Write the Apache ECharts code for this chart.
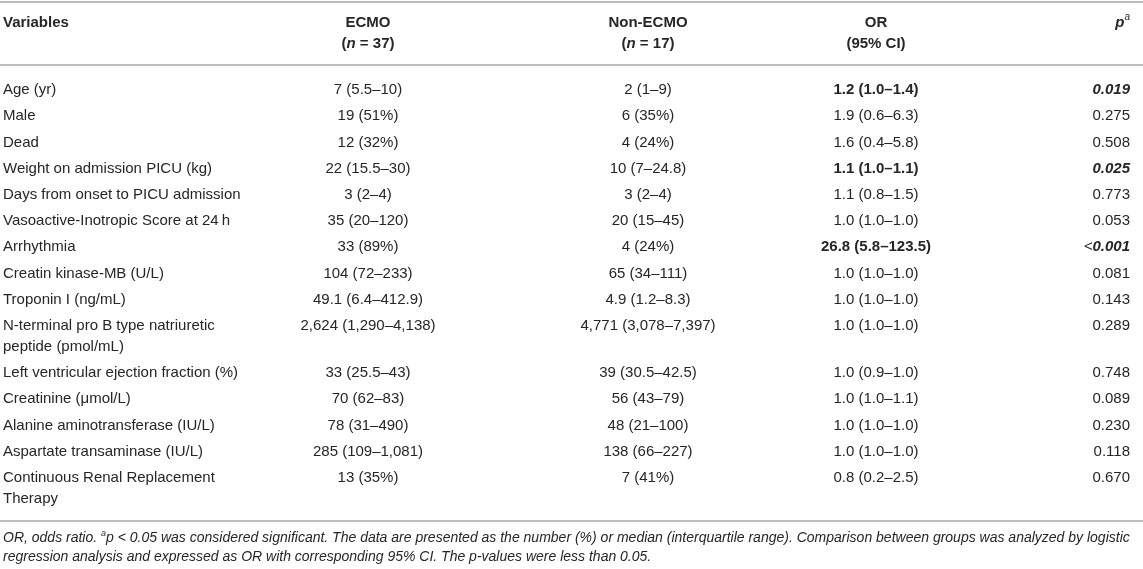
<!DOCTYPE html>
<html>
<head>
<meta charset="utf-8">
<title>ECMO vs Non-ECMO</title>
<script src="https://cdn.jsdelivr.net/npm/echarts@6/dist/echarts.min.js"></script>
<style>
  html, body { margin: 0; padding: 0; background: #fff; }
  #table { width: 1143px; height: 569px; }
</style>
</head>
<body>
<div id="table"></div>
<script>
// table data
const groupSizes = [37, 17]
const variables = [
  'Age (yr)',
  'Male',
  'Dead',
  'Weight on admission PICU (kg)',
  'Days from onset to PICU admission',
  'Vasoactive-Inotropic Score at 24\u2009h',
  'Arrhythmia',
  'Creatin kinase-MB (U/L)',
  'Troponin I (ng/mL)',
  'N-terminal pro B type natriuretic\npeptide (pmol/mL)',
  'Left ventricular ejection fraction (%)',
  'Creatinine (\u03bcmol/L)',
  'Alanine aminotransferase (IU/L)',
  'Aspartate transaminase (IU/L)',
  'Continuous Renal Replacement\nTherapy'
]
const ecmo = [
  '7 (5.5–10)', '19 (51%)', '12 (32%)', '22 (15.5–30)', '3 (2–4)',
  '35 (20–120)', '33 (89%)', '104 (72–233)', '49.1 (6.4–412.9)',
  '2,624 (1,290–4,138)', '33 (25.5–43)', '70 (62–83)', '78 (31–490)',
  '285 (109–1,081)', '13 (35%)'
]
const nonEcmo = [
  '2 (1–9)', '6 (35%)', '4 (24%)', '10 (7–24.8)', '3 (2–4)',
  '20 (15–45)', '4 (24%)', '65 (34–111)', '4.9 (1.2–8.3)',
  '4,771 (3,078–7,397)', '39 (30.5–42.5)', '56 (43–79)', '48 (21–100)',
  '138 (66–227)', '7 (41%)'
]
const orCi = [
  '1.2 (1.0–1.4)', '1.9 (0.6–6.3)', '1.6 (0.4–5.8)', '1.1 (1.0–1.1)', '1.1 (0.8–1.5)',
  '1.0 (1.0–1.0)', '26.8 (5.8–123.5)', '1.0 (1.0–1.0)', '1.0 (1.0–1.0)',
  '1.0 (1.0–1.0)', '1.0 (0.9–1.0)', '1.0 (1.0–1.1)', '1.0 (1.0–1.0)',
  '1.0 (1.0–1.0)', '0.8 (0.2–2.5)'
]
const pValues = [
  '0.019', '0.275', '0.508', '0.025', '0.773', '0.053', '<0.001', '0.081',
  '0.143', '0.289', '0.748', '0.089', '0.230', '0.118', '0.670'
]
const footnote = [
  '{i|OR, odds ratio. }{sup|a}{i|p < 0.05 was considered significant. The data are presented as the number (%) or median (interquartile range). Comparison between groups was analyzed by logistic}',
  '{i|regression analysis and expressed as OR with corresponding 95% CI. The p-values were less than 0.05.}'
]

// layout
const W = 1143
const H = 569
const FONT = '"Liberation Sans", Arial, Helvetica, sans-serif'
const INK = '#262626'
const RULE = '#bcbcbc'
const FS = 15
const FOOT_FS = 14
const COL_X = [3, 368, 648, 876, 1130]
const COL_ALIGN = ['left', 'center', 'center', 'center', 'right']
const HEAD_MID = 23
const LINE_H = 21
const FIRST_MID = 90
const ROW_STEP = 26.2
const RULES_Y = [2, 65, 521]
const FOOT_MID = 538
const FOOT_LINE = 19

const isSig = p => parseFloat(p.replace('<', '')) < 0.05

const headers = [
  'Variables',
  'ECMO\n({ni|n} = ' + groupSizes[0] + ')',
  'Non-ECMO\n({ni|n} = ' + groupSizes[1] + ')',
  'OR\n(95% CI)',
  '{pi|p}{sup|a}'
]

// top of each body row, stacked by line count
const rowTop = []
let acc = FIRST_MID - LINE_H / 2
variables.forEach(v => {
  rowTop.push(acc)
  acc += ROW_STEP + (v.split('\n').length - 1) * LINE_H
})

const cells = []
for (let c = 0; c < 5; c++) {
  cells.push([c, -1])
  for (let r = 0; r < variables.length; r++) cells.push([c, r])
}

const richBase = {
  ni: { fontStyle: 'italic', fontWeight: 'bold', fontSize: FS, fontFamily: FONT, fill: INK, lineHeight: LINE_H },
  pi: { fontStyle: 'italic', fontWeight: 'bold', fontSize: FS, fontFamily: FONT, fill: INK, lineHeight: LINE_H },
  sup: { fontStyle: 'italic', fontSize: 10, fontFamily: FONT, fill: INK, lineHeight: LINE_H, verticalAlign: 'top' },
  bi: { fontStyle: 'italic', fontWeight: 'bold', fontSize: FS, fontFamily: FONT, fill: INK, lineHeight: LINE_H },
  lt: { fontStyle: 'italic', fontWeight: 'normal', fontSize: FS, fontFamily: FONT, fill: INK, lineHeight: LINE_H }
}

function cellContent(c, r) {
  if (r < 0) return { text: headers[c], weight: 'bold' }
  if (c === 0) return { text: variables[r], weight: 'normal' }
  if (c === 1) return { text: ecmo[r], weight: 'normal' }
  if (c === 2) return { text: nonEcmo[r], weight: 'normal' }
  const sig = isSig(pValues[r])
  if (c === 3) return { text: orCi[r], weight: sig ? 'bold' : 'normal' }
  if (!sig) return { text: pValues[r], weight: 'normal' }
  const p = pValues[r]
  if (p[0] === '<') return { text: '{lt|<}{bi|' + p.slice(1) + '}', weight: 'bold' }
  return { text: '{bi|' + p + '}', weight: 'bold' }
}

function renderCell(params, api) {
  const c = api.value(0)
  const r = api.value(1)
  const y = r < 0 ? HEAD_MID - LINE_H / 2 : rowTop[r]
  const pt = api.coord([COL_X[c], y])
  const cell = cellContent(c, r)
  return {
    type: 'text',
    x: pt[0],
    y: pt[1],
    style: {
      text: cell.text,
      fill: INK,
      fontFamily: FONT,
      fontSize: FS,
      fontWeight: cell.weight,
      align: COL_ALIGN[c],
      verticalAlign: 'top',
      lineHeight: LINE_H,
      rich: richBase
    }
  }
}

function renderFoot(params, api) {
  const i = api.value(0)
  const pt = api.coord([COL_X[0], FOOT_MID + i * FOOT_LINE - FOOT_LINE / 2])
  return {
    type: 'text',
    x: pt[0],
    y: pt[1],
    style: {
      text: footnote[i],
      fill: INK,
      fontFamily: FONT,
      fontSize: FOOT_FS,
      fontStyle: 'italic',
      align: 'left',
      verticalAlign: 'top',
      lineHeight: FOOT_LINE,
      rich: {
        i: { fontStyle: 'italic', fontSize: FOOT_FS, fontFamily: FONT, fill: INK, lineHeight: FOOT_LINE },
        sup: { fontStyle: 'italic', fontSize: 9, fontFamily: FONT, fill: INK, lineHeight: FOOT_LINE, verticalAlign: 'top' }
      }
    }
  }
}

const chart = echarts.init(document.getElementById('table'), null, { renderer: 'canvas' })
chart.setOption({
  backgroundColor: '#fff',
  animation: false,
  grid: { left: 0, right: 0, top: 0, bottom: 0 },
  xAxis: { type: 'value', min: 0, max: W, show: false },
  yAxis: { type: 'value', min: 0, max: H, inverse: true, show: false },
  graphic: RULES_Y.map(y => ({
    type: 'line',
    shape: { x1: 0, y1: y, x2: W, y2: y },
    style: { stroke: RULE, lineWidth: 2 },
    silent: true
  })),
  series: [
    {
      type: 'custom',
      renderItem: renderCell,
      data: cells,
      silent: true
    },
    {
      type: 'custom',
      renderItem: renderFoot,
      data: footnote.map((f, i) => [i]),
      silent: true
    }
  ]
})
</script>
</body>
</html>
